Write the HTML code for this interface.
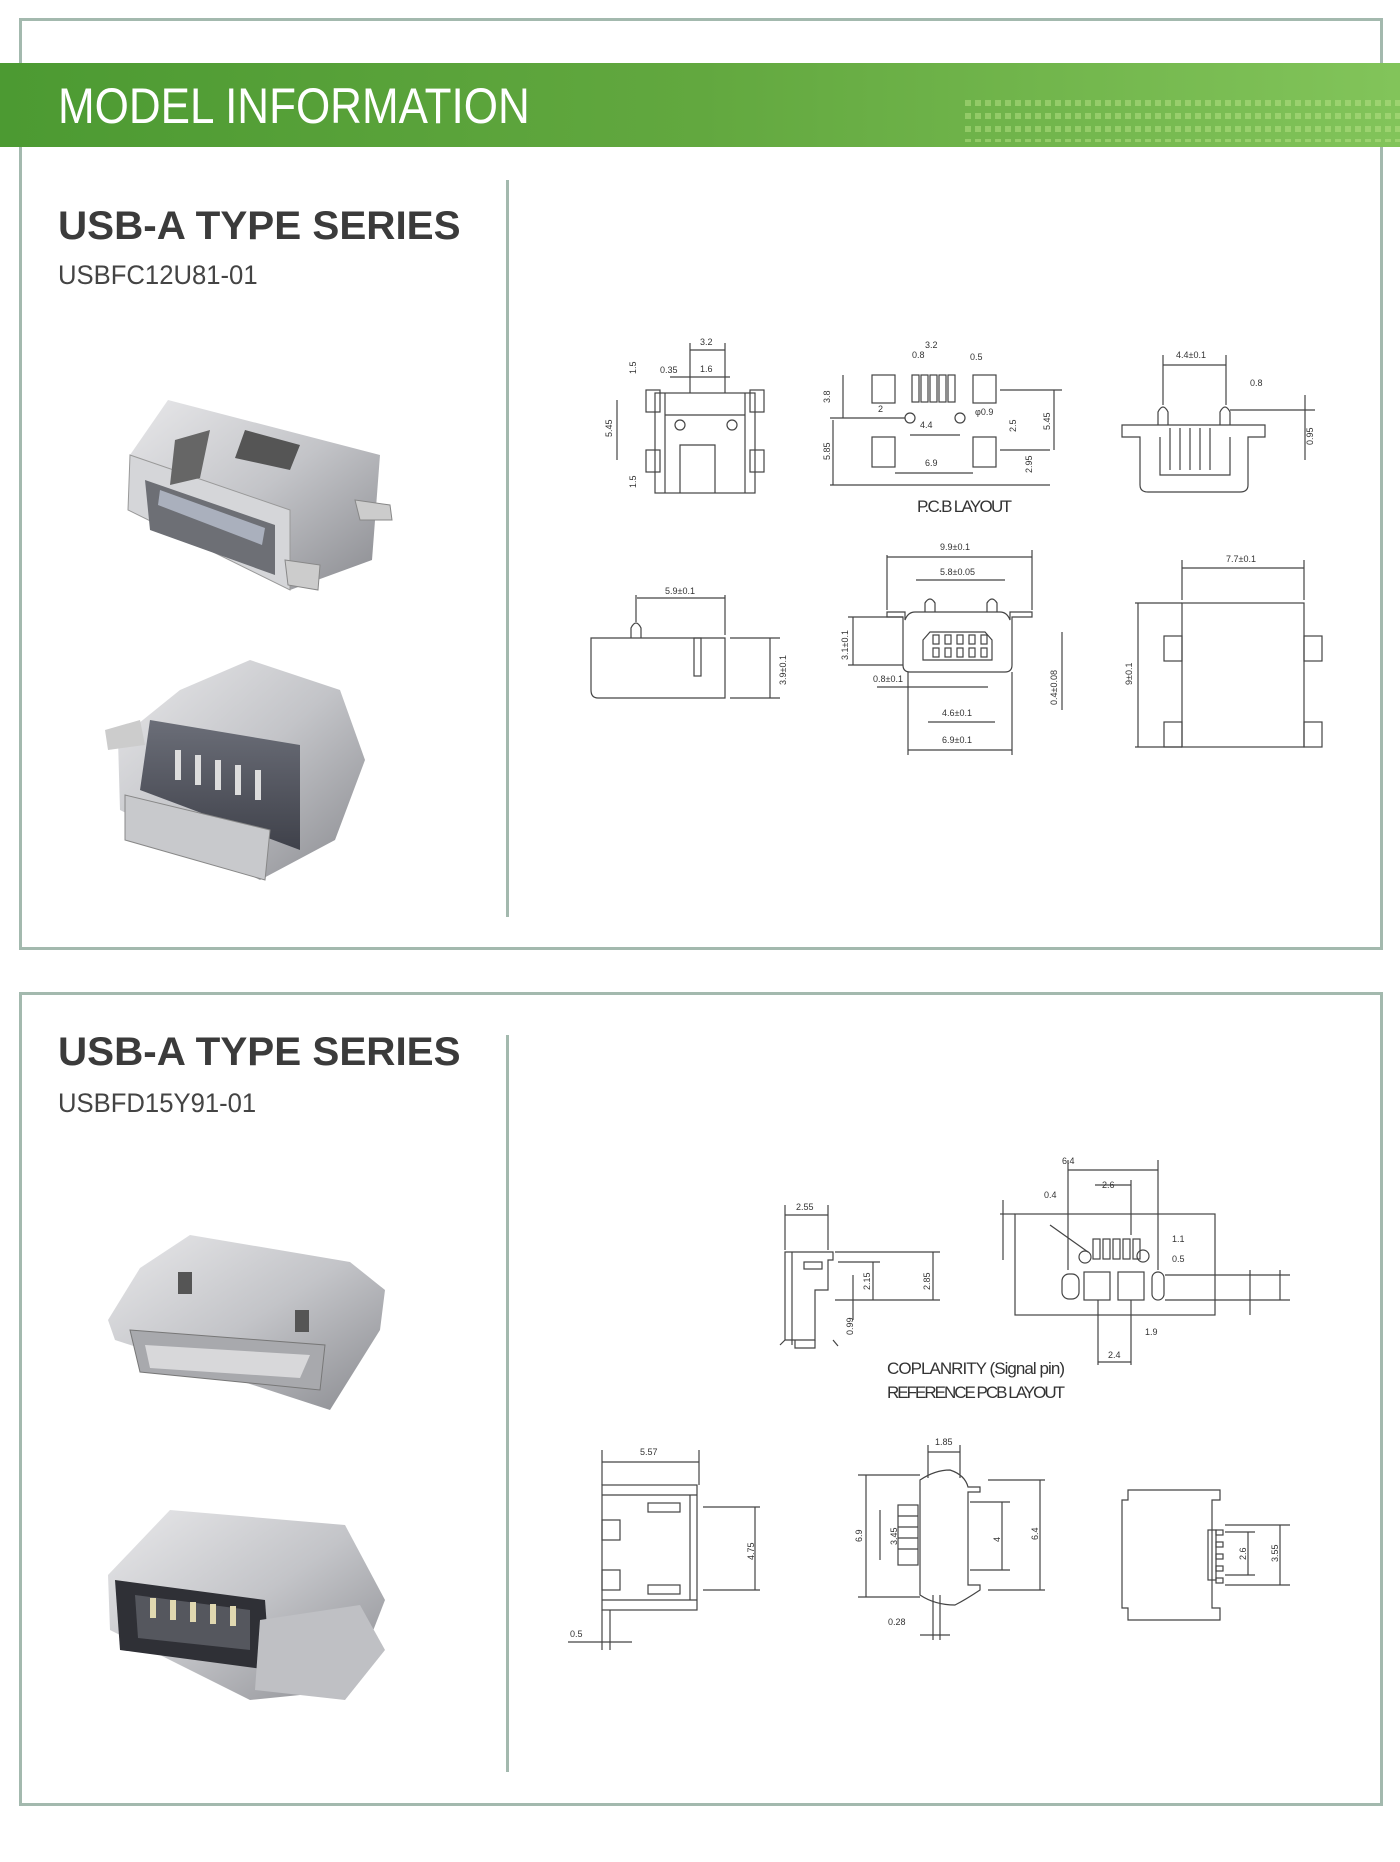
<!DOCTYPE html>
<html><head><meta charset="utf-8"><style>
body{margin:0;background:#fff;width:1400px;height:1862px;overflow:hidden;position:relative;font-family:"Liberation Sans",sans-serif}
.frame{position:absolute;border:3px solid #a3b9ae;box-sizing:border-box}
.band{position:absolute;left:0;top:63px;width:1400px;height:84px;background:linear-gradient(90deg,#4c9a32,#62a83f 50%,#82c45a)}
.band span{position:absolute;left:58px;top:14px;color:#fff;font-size:50px;transform:scaleX(.88);transform-origin:left;letter-spacing:0}
.dots{position:absolute;left:965px;top:100px;width:435px;height:42px;background:repeating-linear-gradient(90deg,rgba(190,230,140,.45) 0 6px,transparent 6px 10px);-webkit-mask:repeating-linear-gradient(180deg,#000 0 6px,transparent 6px 13px)}
.div{position:absolute;width:3px;background:#a3b9ae}
.t{position:absolute;left:58px;font-weight:bold;font-size:40px;color:#3b3b3b;transform:scaleX(1.01);transform-origin:left}
.s{position:absolute;left:58px;font-size:27px;color:#444;transform:scaleX(.95);transform-origin:left}
svg{position:absolute;left:0;top:0}
svg text{font-family:"Liberation Sans",sans-serif;fill:#333}
</style></head><body>
<div class="frame" style="left:19px;top:18px;width:1364px;height:932px"></div>
<div class="band"><span>MODEL INFORMATION</span></div>
<div class="dots"></div>
<div class="div" style="left:506px;top:180px;height:737px"></div>
<div class="t" style="top:204px">USB-A TYPE SERIES</div>
<div class="s" style="top:260px">USBFC12U81-01</div>

<div class="frame" style="left:19px;top:992px;width:1364px;height:814px"></div>
<div class="div" style="left:506px;top:1035px;height:737px"></div>
<div class="t" style="top:1030px">USB-A TYPE SERIES</div>
<div class="s" style="top:1088px">USBFD15Y91-01</div>

<svg width="1400" height="1862" viewBox="0 0 1400 1862">
<defs>
<linearGradient id="m" x1="0" y1="0" x2="1" y2="1"><stop offset="0" stop-color="#e8e8ea"/><stop offset=".5" stop-color="#c3c4c8"/><stop offset="1" stop-color="#8a8b90"/></linearGradient>
<linearGradient id="d" x1="0" y1="0" x2="0" y2="1"><stop offset="0" stop-color="#6b6e78"/><stop offset="1" stop-color="#3f414a"/></linearGradient>
</defs>
<g>
<polygon points="168,400 380,455 372,560 290,590 128,510 130,455" fill="url(#m)"/>
<polygon points="130,455 290,510 290,590 128,510" fill="#d5d6d9" stroke="#999"/>
<polygon points="145,480 275,525 275,575 150,530" fill="#6d6f75"/>
<polygon points="160,490 265,528 262,545 158,505" fill="#aab0bd"/>
<polygon points="245,430 300,445 290,470 235,458" fill="#555"/>
<polygon points="175,440 210,430 200,478 170,485" fill="#666"/>
<polygon points="355,500 390,505 392,520 360,520" fill="#ccc" stroke="#888"/>
<polygon points="285,560 320,565 318,590 288,585" fill="#ccc" stroke="#888"/>
<polygon points="250,660 340,690 365,760 335,840 260,880 120,810 118,740 180,690" fill="url(#m)"/>
<polygon points="150,720 300,745 300,850 140,790" fill="url(#d)"/>
<g fill="#ddd"><rect x="175" y="750" width="6" height="30"/><rect x="195" y="755" width="6" height="30"/><rect x="215" y="760" width="6" height="30"/><rect x="235" y="765" width="6" height="30"/><rect x="255" y="770" width="6" height="30"/></g>
<polygon points="125,795 270,830 265,880 125,840" fill="#c8c9cc" stroke="#888"/>
<polygon points="105,730 140,720 145,745 108,750" fill="#ccc"/>
</g>
<g>
<polygon points="140,1268 190,1235 350,1262 385,1290 380,1330 330,1410 115,1340 108,1320" fill="url(#m)"/>
<polygon points="130,1330 325,1345 320,1390 140,1372" fill="#a8a9ad" stroke="#777"/>
<polygon points="145,1345 310,1355 300,1378 150,1368" fill="#d8d8da"/>
<rect x="178" y="1272" width="14" height="22" fill="#555"/><rect x="295" y="1310" width="14" height="22" fill="#555"/>
<polygon points="170,1510 345,1525 385,1600 350,1690 250,1700 110,1630 108,1575" fill="url(#m)"/>
<polygon points="115,1580 265,1600 270,1670 120,1650" fill="#2f3036"/>
<polygon points="135,1595 250,1610 250,1650 138,1638" fill="#55575e"/>
<g fill="#e0d8b0"><rect x="150" y="1598" width="6" height="20"/><rect x="170" y="1600" width="6" height="20"/><rect x="190" y="1602" width="6" height="20"/><rect x="210" y="1604" width="6" height="20"/><rect x="230" y="1606" width="6" height="20"/></g>
<polygon points="260,1620 360,1605 385,1650 345,1700 255,1690" fill="#bfc0c4"/>
</g>

<g fill="none" stroke="#444" stroke-width="1.2">
<rect x="655" y="393" width="100" height="100"/>
<rect x="646" y="390" width="14" height="22"/><rect x="750" y="390" width="14" height="22"/>
<rect x="646" y="450" width="14" height="22"/><rect x="750" y="450" width="14" height="22"/>
<line x1="665" y1="393" x2="665" y2="493"/><line x1="745" y1="393" x2="745" y2="493"/>
<line x1="665" y1="415" x2="745" y2="415"/>
<polyline points="680,493 680,445 715,445 715,493"/>
<circle cx="680" cy="425" r="5"/><circle cx="732" cy="425" r="5"/>
<line x1="617" y1="400" x2="617" y2="460"/><line x1="690" y1="350" x2="725" y2="350"/><line x1="670" y1="377" x2="730" y2="377"/>
<line x1="690" y1="343" x2="690" y2="393"/><line x1="725" y1="343" x2="725" y2="393"/>
<rect x="872" y="375" width="23" height="28"/><rect x="973" y="375" width="23" height="28"/>
<rect x="912" y="375" width="7" height="27"/><rect x="921" y="375" width="7" height="27"/><rect x="930" y="375" width="7" height="27"/><rect x="939" y="375" width="7" height="27"/><rect x="948" y="375" width="7" height="27"/>
<rect x="872" y="437" width="23" height="30"/><rect x="973" y="437" width="23" height="30"/>
<circle cx="910" cy="418" r="5"/><circle cx="960" cy="418" r="5"/>
<line x1="830" y1="418" x2="905" y2="418"/><line x1="833" y1="420" x2="833" y2="485"/><line x1="830" y1="485" x2="1050" y2="485"/>
<line x1="1000" y1="390" x2="1062" y2="390"/><line x1="1054" y1="390" x2="1054" y2="450"/><line x1="1000" y1="450" x2="1050" y2="450"/>
<line x1="895" y1="473" x2="973" y2="473"/><line x1="910" y1="435" x2="960" y2="435"/><line x1="843" y1="375" x2="843" y2="418"/>
<path d="M1122,425 L1265,425 L1265,437 L1248,437 L1248,485 Q1248,492 1240,492 L1148,492 Q1140,492 1140,485 L1140,437 L1122,437Z"/>
<path d="M1158,425 L1158,412 Q1163,402 1168,412 L1168,425 M1220,425 L1220,412 Q1225,402 1230,412 L1230,425"/>
<path d="M1160,437 L1160,475 L1230,475 L1230,437 M1170,428 L1170,470 M1180,428 L1180,470 M1190,428 L1190,470 M1200,428 L1200,470 M1210,428 L1210,470"/>
<line x1="1163" y1="355" x2="1163" y2="405"/><line x1="1226" y1="355" x2="1226" y2="405"/><line x1="1163" y1="365" x2="1226" y2="365"/>
<line x1="1230" y1="410" x2="1315" y2="410"/><line x1="1305" y1="395" x2="1305" y2="460"/>
<path d="M591,638 L725,638 L725,698 L598,698 Q591,698 591,690Z"/><rect x="694" y="638" width="7" height="38"/>
<path d="M631,638 L631,628 Q636,618 641,628 L641,638"/>
<line x1="636" y1="595" x2="636" y2="622"/><line x1="725" y1="595" x2="725" y2="635"/><line x1="637" y1="598" x2="725" y2="598"/>
<line x1="730" y1="638" x2="780" y2="638"/><line x1="730" y1="698" x2="780" y2="698"/><line x1="770" y1="638" x2="770" y2="698"/>
<path d="M887,612 L905,612 L905,620 Q908,612 915,612 L1000,612 Q1007,612 1010,620 L1010,612 L1032,612 L1032,617 L1012,617 L1012,665 Q1012,672 1005,672 L910,672 Q903,672 903,665 L903,617 L887,617Z"/>
<path d="M923,640 L930,632 L985,632 L992,640 L992,660 L923,660Z"/>
<g><rect x="933" y="635" width="6" height="9"/><rect x="945" y="635" width="6" height="9"/><rect x="957" y="635" width="6" height="9"/><rect x="969" y="635" width="6" height="9"/><rect x="981" y="635" width="6" height="9"/>
<rect x="933" y="648" width="6" height="9"/><rect x="945" y="648" width="6" height="9"/><rect x="957" y="648" width="6" height="9"/><rect x="969" y="648" width="6" height="9"/><rect x="981" y="648" width="6" height="9"/></g>
<path d="M925,612 L925,603 Q930,595 935,603 L935,612 M987,612 L987,603 Q992,595 997,603 L997,612"/>
<line x1="887" y1="555" x2="887" y2="610"/><line x1="1032" y1="550" x2="1032" y2="610"/><line x1="887" y1="557" x2="1032" y2="557"/>
<line x1="916" y1="580" x2="1005" y2="580"/><line x1="848" y1="617" x2="903" y2="617"/><line x1="848" y1="665" x2="903" y2="665"/><line x1="853" y1="617" x2="853" y2="665"/>
<line x1="908" y1="750" x2="1012" y2="750"/><line x1="928" y1="722" x2="995" y2="722"/><line x1="877" y1="687" x2="988" y2="687"/>
<line x1="908" y1="672" x2="908" y2="755"/><line x1="1012" y1="672" x2="1012" y2="755"/>
<line x1="1062" y1="632" x2="1062" y2="710"/>
<rect x="1182" y="603" width="122" height="144"/>
<rect x="1164" y="636" width="18" height="25"/><rect x="1304" y="636" width="18" height="25"/>
<rect x="1164" y="722" width="18" height="25"/><rect x="1304" y="722" width="18" height="25"/>
<line x1="1182" y1="560" x2="1182" y2="600"/><line x1="1304" y1="560" x2="1304" y2="600"/><line x1="1182" y1="568" x2="1304" y2="568"/>
<line x1="1135" y1="603" x2="1182" y2="603"/><line x1="1135" y1="747" x2="1182" y2="747"/><line x1="1138" y1="603" x2="1138" y2="747"/>

<path d="M785,1252 L833,1252 L833,1260 L828,1260 L828,1290 L815,1290 L815,1340 L785,1340Z"/>
<rect x="804" y="1262" width="18" height="7"/><line x1="792" y1="1252" x2="792" y2="1345"/>
<path d="M780,1345 L785,1340 M833,1340 L838,1346 M795,1340 L795,1348 L815,1348 L815,1340"/>
<line x1="785" y1="1205" x2="785" y2="1250"/><line x1="828" y1="1205" x2="828" y2="1250"/><line x1="785" y1="1215" x2="828" y2="1215"/>
<line x1="835" y1="1252" x2="940" y2="1252"/><line x1="835" y1="1300" x2="940" y2="1300"/><line x1="933" y1="1252" x2="933" y2="1300"/>
<line x1="838" y1="1262" x2="880" y2="1262"/><line x1="873" y1="1262" x2="873" y2="1300"/><line x1="853" y1="1275" x2="853" y2="1320"/>
<rect x="1015" y="1214" width="200" height="101"/>
<rect x="1093" y="1239" width="7" height="20"/><rect x="1103" y="1239" width="7" height="20"/><rect x="1113" y="1239" width="7" height="20"/><rect x="1123" y="1239" width="7" height="20"/><rect x="1133" y="1239" width="7" height="20"/>
<circle cx="1085" cy="1257" r="6"/><circle cx="1143" cy="1256" r="6"/>
<rect x="1062" y="1274" width="17" height="25" rx="7"/><rect x="1084" y="1272" width="26" height="28"/><rect x="1118" y="1272" width="26" height="28"/><rect x="1152" y="1272" width="12" height="28" rx="6"/>
<line x1="1068" y1="1160" x2="1068" y2="1270"/><line x1="1158" y1="1160" x2="1158" y2="1270"/><line x1="1068" y1="1170" x2="1158" y2="1170"/>
<line x1="1095" y1="1185" x2="1131" y2="1185"/><line x1="1131" y1="1180" x2="1131" y2="1235"/>
<line x1="1000" y1="1214" x2="1015" y2="1214"/><line x1="1003" y1="1200" x2="1003" y2="1260"/>
<line x1="1165" y1="1275" x2="1290" y2="1275"/><line x1="1165" y1="1300" x2="1290" y2="1300"/><line x1="1250" y1="1270" x2="1250" y2="1315"/><line x1="1280" y1="1270" x2="1280" y2="1300"/>
<line x1="1098" y1="1300" x2="1098" y2="1365"/><line x1="1131" y1="1300" x2="1131" y2="1365"/><line x1="1098" y1="1362" x2="1131" y2="1362"/>
<line x1="1050" y1="1225" x2="1088" y2="1252"/>
<rect x="602" y="1485" width="95" height="125"/><line x1="602" y1="1495" x2="697" y2="1495"/><line x1="602" y1="1600" x2="697" y2="1600"/><line x1="690" y1="1495" x2="690" y2="1600"/>
<rect x="648" y="1503" width="32" height="9"/><rect x="648" y="1585" width="32" height="9"/>
<rect x="602" y="1520" width="18" height="20"/><rect x="602" y="1570" width="18" height="20"/>
<line x1="602" y1="1450" x2="602" y2="1485"/><line x1="699" y1="1450" x2="699" y2="1485"/><line x1="602" y1="1462" x2="699" y2="1462"/>
<line x1="703" y1="1507" x2="760" y2="1507"/><line x1="703" y1="1590" x2="760" y2="1590"/><line x1="755" y1="1507" x2="755" y2="1590"/>
<line x1="568" y1="1642" x2="632" y2="1642"/><line x1="610" y1="1610" x2="610" y2="1650"/><line x1="602" y1="1610" x2="602" y2="1650"/>
<path d="M920,1480 Q935,1470 950,1470 Q965,1475 968,1487 L980,1487 L980,1492 L968,1492 L968,1585 L980,1585 L980,1590 Q965,1600 955,1605 Q935,1605 920,1595Z"/>
<rect x="898" y="1505" width="20" height="60"/><line x1="898" y1="1516" x2="918" y2="1516"/><line x1="898" y1="1527" x2="918" y2="1527"/><line x1="898" y1="1538" x2="918" y2="1538"/><line x1="898" y1="1549" x2="918" y2="1549"/>
<line x1="858" y1="1475" x2="920" y2="1475"/><line x1="858" y1="1597" x2="920" y2="1597"/><line x1="866" y1="1475" x2="866" y2="1597"/>
<line x1="988" y1="1480" x2="1045" y2="1480"/><line x1="988" y1="1590" x2="1045" y2="1590"/><line x1="1040" y1="1480" x2="1040" y2="1590"/>
<line x1="970" y1="1502" x2="1010" y2="1502"/><line x1="970" y1="1570" x2="1010" y2="1570"/><line x1="1002" y1="1502" x2="1002" y2="1570"/>
<line x1="928" y1="1445" x2="928" y2="1478"/><line x1="960" y1="1445" x2="960" y2="1478"/><line x1="928" y1="1452" x2="960" y2="1452"/>
<line x1="880" y1="1510" x2="880" y2="1560"/><line x1="933" y1="1595" x2="933" y2="1640"/><line x1="940" y1="1595" x2="940" y2="1640"/><line x1="920" y1="1635" x2="950" y2="1635"/>
<path d="M1128,1490 L1220,1490 L1220,1500 L1212,1500 L1212,1608 L1220,1608 L1220,1620 L1128,1620 L1128,1608 L1122,1608 L1122,1500 L1128,1500Z"/>
<rect x="1208" y="1530" width="8" height="50"/>
<g><rect x="1216" y="1530" width="7" height="5"/><rect x="1216" y="1542" width="7" height="5"/><rect x="1216" y="1554" width="7" height="5"/><rect x="1216" y="1566" width="7" height="5"/><rect x="1216" y="1578" width="7" height="5"/></g>
<line x1="1225" y1="1525" x2="1290" y2="1525"/><line x1="1225" y1="1585" x2="1290" y2="1585"/><line x1="1280" y1="1525" x2="1280" y2="1585"/>
<line x1="1225" y1="1532" x2="1255" y2="1532"/><line x1="1225" y1="1575" x2="1255" y2="1575"/><line x1="1248" y1="1532" x2="1248" y2="1575"/>
</g>

<g font-size="9">
<text x="700" y="345">3.2</text><text x="660" y="373">0.35</text><text x="700" y="372">1.6</text>
<text x="912" y="358">0.8</text><text x="925" y="348">3.2</text><text x="970" y="360">0.5</text><text x="920" y="428">4.4</text><text x="925" y="466">6.9</text><text x="975" y="415">φ0.9</text><text x="878" y="412">2</text>
<text x="1176" y="358">4.4±0.1</text><text x="1250" y="386">0.8</text>
<text x="665" y="594">5.9±0.1</text><text x="940" y="550">9.9±0.1</text><text x="940" y="575">5.8±0.05</text><text x="873" y="682">0.8±0.1</text><text x="942" y="716">4.6±0.1</text><text x="942" y="743">6.9±0.1</text><text x="1226" y="562">7.7±0.1</text>
<text x="796" y="1210">2.55</text><text x="1062" y="1164">6.4</text><text x="1102" y="1188">2.6</text><text x="1044" y="1198">0.4</text><text x="1172" y="1242">1.1</text><text x="1172" y="1262">0.5</text><text x="1145" y="1335">1.9</text><text x="1108" y="1358">2.4</text>
<text x="640" y="1455">5.57</text><text x="570" y="1637">0.5</text><text x="935" y="1445">1.85</text><text x="888" y="1625">0.28</text>
</g>
<g font-size="9">
<text transform="translate(612,437) rotate(-90)">5.45</text><text transform="translate(636,374) rotate(-90)">1.5</text><text transform="translate(636,488) rotate(-90)">1.5</text>
<text transform="translate(830,403) rotate(-90)">3.8</text><text transform="translate(830,460) rotate(-90)">5.85</text><text transform="translate(1050,430) rotate(-90)">5.45</text><text transform="translate(1016,432) rotate(-90)">2.5</text><text transform="translate(1032,473) rotate(-90)">2.95</text>
<text transform="translate(1313,445) rotate(-90)">0.95</text><text transform="translate(786,685) rotate(-90)">3.9±0.1</text><text transform="translate(848,660) rotate(-90)">3.1±0.1</text><text transform="translate(1057,705) rotate(-90)">0.4±0.08</text><text transform="translate(1132,685) rotate(-90)">9±0.1</text>
<text transform="translate(930,1290) rotate(-90)">2.85</text><text transform="translate(870,1290) rotate(-90)">2.15</text><text transform="translate(853,1335) rotate(-90)">0.99</text>
<text transform="translate(754,1560) rotate(-90)">4.75</text><text transform="translate(862,1542) rotate(-90)">6.9</text><text transform="translate(897,1545) rotate(-90)">3.45</text><text transform="translate(1000,1542) rotate(-90)">4</text><text transform="translate(1038,1540) rotate(-90)">6.4</text><text transform="translate(1246,1560) rotate(-90)">2.6</text><text transform="translate(1278,1562) rotate(-90)">3.55</text>
</g>
<g font-size="17" fill="#333">
<text x="917" y="512" textLength="95">P.C.B LAYOUT</text>
<text x="887" y="1374" textLength="178">COPLANRITY (Signal pin)</text>
<text x="887" y="1398" textLength="178">REFERENCE PCB LAYOUT</text>
</g>
</svg>
</body></html>
